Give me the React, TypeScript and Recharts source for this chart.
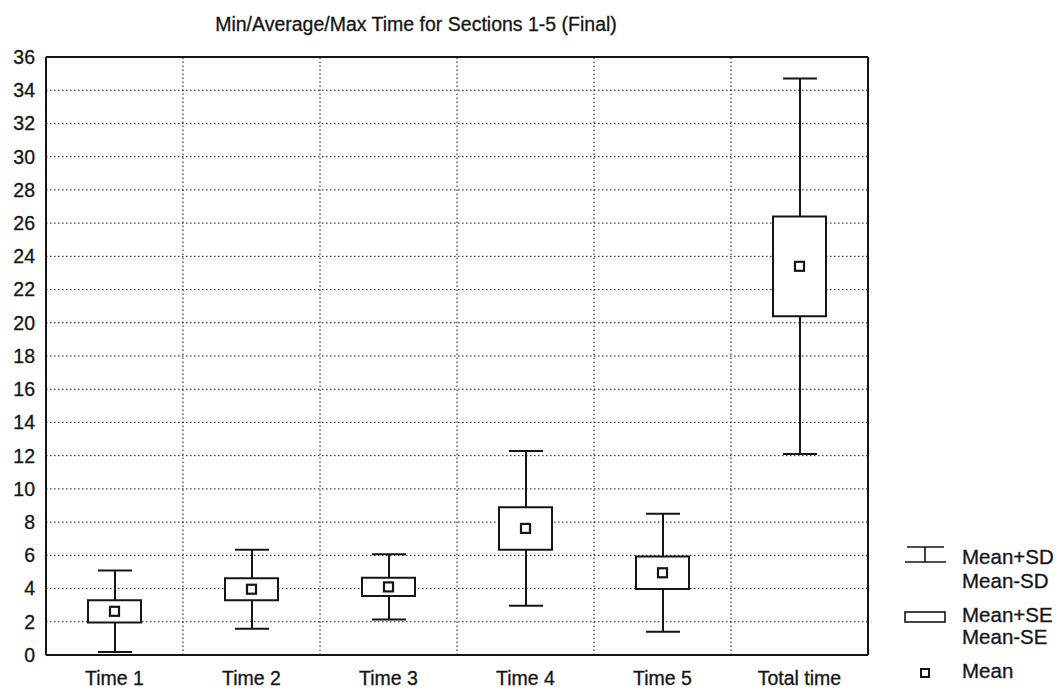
import {
  Bar,
  CartesianGrid,
  ComposedChart,
  Line,
  ReferenceLine,
  XAxis,
  YAxis,
} from "recharts"

const CATEGORIES = ["Time 1", "Time 2", "Time 3", "Time 4", "Time 5", "Total time"]
const MEAN = [2.63, 3.96, 4.1, 7.62, 4.95, 23.4]
const SE = [0.67, 0.66, 0.55, 1.28, 0.98, 3.0]
const SD = [2.45, 2.38, 1.97, 4.66, 3.55, 11.3]
const Y_TICKS = [0, 2, 4, 6, 8, 10, 12, 14, 16, 18, 20, 22, 24, 26, 28, 30, 32, 34, 36]

const data = CATEGORIES.map((name, i) => ({
  name,
  mean: MEAN[i],
  se: [MEAN[i] - SE[i], MEAN[i] + SE[i]],
  sd: [MEAN[i] - SD[i], MEAN[i] + SD[i]],
}))

const INK = "#151515"
const FONT = "'Liberation Sans', Arial, Helvetica, sans-serif"
const TICK_STYLE = { fill: INK, fontSize: 19.5, stroke: INK, strokeWidth: 0.3 }

const Whisker = (props: any) => {
  const { x, y, width, height } = props
  const cx = x + width / 2
  return (
    <g stroke={INK} strokeWidth={2}>
      <line x1={cx} x2={cx} y1={y} y2={y + height} />
      <line x1={x} x2={x + width} y1={y} y2={y} />
      <line x1={x} x2={x + width} y1={y + height} y2={y + height} />
    </g>
  )
}

const MeanDot = (props: any) => {
  const { cx, cy, index } = props
  return (
    <rect key={index} x={cx - 4.5} y={cy - 4.5} width={9} height={9} fill="#fff" stroke={INK} strokeWidth={2.2} />
  )
}

const LEGEND_LABELS = ["Mean+SD", "Mean-SD", "Mean+SE", "Mean-SE", "Mean"]
const LEGEND_TOPS = [549, 573, 607, 629, 663]

const LegendBlock = () => (
  <div style={{ position: "absolute", left: 0, top: 0, width: 1045, height: 680, pointerEvents: "none" }}>
    <svg width={1045} height={680} style={{ position: "absolute", left: 0, top: 0 }}>
      <g stroke={INK} strokeWidth={1.6} fill="none">
        <line x1={899} x2={936} y1={539} y2={539} />
        <line x1={917} x2={917} y1={539} y2={554} />
        <line x1={897} x2={938} y1={554} y2={554} />
        <rect x={897} y={604} width={40} height={10} fill="#fff" />
        <rect x={913} y={661} width={8} height={8} strokeWidth={2} />
      </g>
    </svg>
    {LEGEND_LABELS.map((t, i) => (
      <div
        key={t}
        style={{
          position: "absolute",
          left: 954,
          top: LEGEND_TOPS[i] - 12,
          fontSize: 20.5,
          lineHeight: "24px",
          color: INK,
          WebkitTextStroke: "0.3px #151515",
        }}
      >
        {t}
      </div>
    ))}
  </div>
)

export default function App() {
  return (
    <div style={{ position: "relative", width: 1045, height: 680, fontFamily: FONT, background: "#fff" }}>
      <div
        style={{
          position: "absolute",
          left: 0,
          top: 5,
          width: 816,
          textAlign: "center",
          fontSize: 19.5,
          lineHeight: "22px",
          color: INK,
          WebkitTextStroke: "0.3px #151515",
        }}
      >
        Min/Average/Max Time for Sections 1-5 (Final)
      </div>
      <ComposedChart
        width={1045}
        height={680}
        data={data}
        margin={{ top: 49, right: 185, bottom: 3, left: 0 }}
        style={{ fontFamily: FONT }}
      >
        <CartesianGrid vertical={false} stroke={INK} strokeDasharray="1.5 2.5" xAxisId="cat" />
        <XAxis
          xAxisId="cat"
          dataKey="name"
          height={30}
          tickLine={false}
          tickSize={0}
          tickMargin={16}
          axisLine={{ stroke: INK, strokeWidth: 2 }}
          tick={TICK_STYLE}
        />
        <XAxis xAxisId="sd" dataKey="name" hide />
        <YAxis
          domain={[0, 36]}
          ticks={Y_TICKS}
          interval={0}
          width={38}
          tickLine={false}
          tickSize={0}
          tickMargin={11}
          axisLine={{ stroke: INK, strokeWidth: 2 }}
          tick={TICK_STYLE}
        />
        {CATEGORIES.slice(0, 5).map((c) => (
          <ReferenceLine
            key={c}
            xAxisId="cat"
            x={c}
            position="end"
            stroke={INK}
            strokeDasharray="1.5 2.5"
          />
        ))}
        <ReferenceLine xAxisId="cat" y={36} stroke={INK} strokeWidth={2} />
        <ReferenceLine xAxisId="cat" x="Total time" position="end" stroke={INK} strokeWidth={2} />
        <Bar xAxisId="sd" dataKey="sd" barSize={34} shape={Whisker} isAnimationActive={false} />
        <Bar
          xAxisId="cat"
          dataKey="se"
          barSize={53}
          fill="#fff"
          stroke={INK}
          strokeWidth={2}
          isAnimationActive={false}
        />
        <Line
          xAxisId="cat"
          dataKey="mean"
          stroke="none"
          dot={MeanDot}
          activeDot={false}
          isAnimationActive={false}
        />
      </ComposedChart>
      <LegendBlock />
    </div>
  )
}
